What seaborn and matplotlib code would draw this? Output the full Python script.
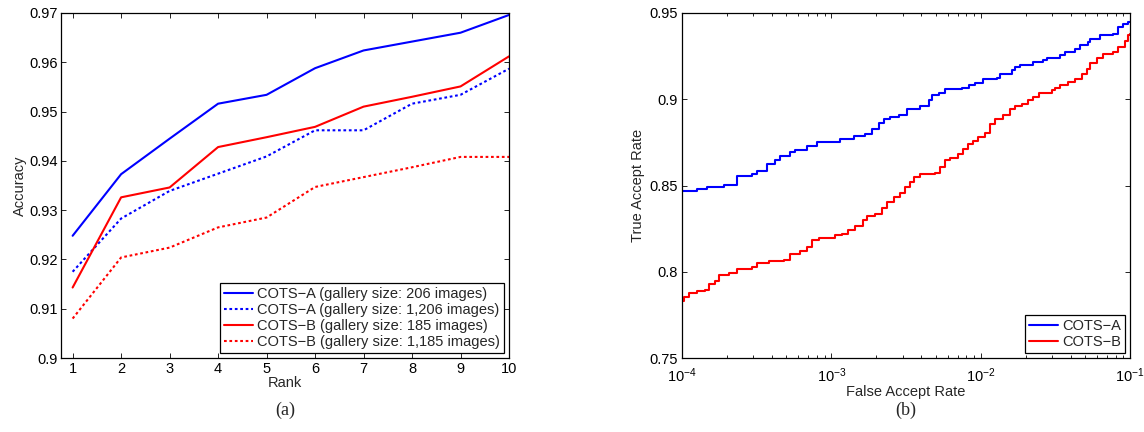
import matplotlib
matplotlib.use("Agg")
import matplotlib.pyplot as plt
import seaborn as sns
import pandas as pd
from matplotlib.ticker import FuncFormatter, LogLocator, NullFormatter, FixedLocator

# ---------------- data ----------------
rank = [1, 2, 3, 4, 5, 6, 7, 8, 9, 10]
cots_a_206 = [0.9248, 0.9373, 0.9445, 0.9516, 0.9534, 0.9588, 0.9624, 0.9642, 0.9660, 0.9696]
cots_a_1206 = [0.9175, 0.9283, 0.9339, 0.9374, 0.9409, 0.9462, 0.9462, 0.9516, 0.9534, 0.9587]
cots_b_185 = [0.9143, 0.9326, 0.9346, 0.9428, 0.9448, 0.9469, 0.9510, 0.9530, 0.9551, 0.9612]
cots_b_1185 = [0.9080, 0.9204, 0.9224, 0.9265, 0.9285, 0.9347, 0.9367, 0.9387, 0.9408, 0.9408]
rank_labels = ["COTS\u2212A (gallery size: 206 images)",
               "COTS\u2212A (gallery size: 1,206 images)",
               "COTS\u2212B (gallery size: 185 images)",
               "COTS\u2212B (gallery size: 1,185 images)"]

far_a = [1.00e-4, 1.26e-4, 1.47e-4, 1.90e-4, 2.33e-4, 2.94e-4, 3.18e-4, 3.71e-4, 4.22e-4,
         4.55e-4, 5.31e-4, 5.73e-4, 6.87e-4, 8.00e-4, 1.15e-3, 1.41e-3, 1.69e-3, 1.87e-3,
         2.07e-3, 2.24e-3, 2.48e-3, 2.82e-3, 3.21e-3, 3.94e-3, 4.48e-3, 4.71e-3, 5.22e-3,
         5.78e-3, 7.48e-3, 8.29e-3, 9.18e-3, 1.04e-2, 1.28e-2, 1.35e-2, 1.61e-2, 1.70e-2,
         1.84e-2, 2.25e-2, 2.63e-2, 2.77e-2, 3.40e-2, 3.68e-2, 4.29e-2, 4.63e-2, 5.26e-2,
         5.40e-2, 6.30e-2, 7.74e-2, 8.36e-2, 9.03e-2, 9.75e-2, 1.00e-1]
tar_a = [0.8468, 0.8480, 0.8491, 0.8505, 0.8553, 0.8565, 0.8584, 0.8627, 0.8646,
         0.8673, 0.8692, 0.8706, 0.8727, 0.8754, 0.8771, 0.8789, 0.8800, 0.8829,
         0.8862, 0.8887, 0.8897, 0.8907, 0.8942, 0.8959, 0.8994, 0.9023, 0.9036,
         0.9059, 0.9067, 0.9081, 0.9096, 0.9119, 0.9123, 0.9144, 0.9168, 0.9187,
         0.9197, 0.9214, 0.9226, 0.9237, 0.9255, 0.9272, 0.9293, 0.9316, 0.9332,
         0.9347, 0.9371, 0.9380, 0.9419, 0.9434, 0.9448, 0.9450]

far_b = [1.00e-4, 1.03e-4, 1.11e-4, 1.26e-4, 1.43e-4, 1.51e-4, 1.67e-4, 1.76e-4, 2.05e-4,
         2.33e-4, 2.94e-4, 3.18e-4, 3.80e-4, 4.79e-4, 5.31e-4, 6.19e-4, 6.87e-4, 7.41e-4,
         8.22e-4, 1.06e-3, 1.18e-3, 1.30e-3, 1.45e-3, 1.64e-3, 1.73e-3, 1.97e-3, 2.18e-3,
         2.36e-3, 2.61e-3, 2.89e-3, 3.13e-3, 3.37e-3, 3.55e-3, 3.94e-3, 4.95e-3, 5.36e-3,
         5.78e-3, 6.25e-3, 7.10e-3, 7.67e-3, 8.28e-3, 8.95e-3, 9.66e-3, 1.07e-2, 1.16e-2,
         1.25e-2, 1.42e-2, 1.57e-2, 1.70e-2, 1.88e-2, 2.09e-2, 2.25e-2, 2.44e-2, 2.99e-2,
         3.16e-2, 3.40e-2, 3.87e-2, 4.29e-2, 4.75e-2, 5.13e-2, 5.41e-2, 5.98e-2, 6.64e-2,
         7.74e-2, 8.36e-2, 9.27e-2, 9.75e-2, 1.00e-1]
tar_b = [0.7830, 0.7854, 0.7877, 0.7886, 0.7896, 0.7931, 0.7946, 0.7983, 0.7993,
         0.8018, 0.8028, 0.8051, 0.8060, 0.8070, 0.8105, 0.8120, 0.8143, 0.8182,
         0.8198, 0.8211, 0.8221, 0.8244, 0.8263, 0.8298, 0.8321, 0.8337, 0.8372,
         0.8404, 0.8433, 0.8457, 0.8491, 0.8518, 0.8549, 0.8565, 0.8572, 0.8607,
         0.8646, 0.8661, 0.8685, 0.8714, 0.8739, 0.8758, 0.8781, 0.8806, 0.8858,
         0.8883, 0.8907, 0.8945, 0.8959, 0.8974, 0.8994, 0.9013, 0.9038, 0.9052,
         0.9067, 0.9081, 0.9100, 0.9119, 0.9148, 0.9177, 0.9210, 0.9239, 0.9264,
         0.9274, 0.9303, 0.9338, 0.9371, 0.9380]
roc_labels = ["COTS\u2212A", "COTS\u2212B"]

# ---------------- style ----------------
FS = 10.5
sns.set_theme(style="ticks")
plt.rcParams["font.family"] = ["Liberation Sans", "DejaVu Sans"]
plt.rcParams.update({
    "font.size": FS,
    "axes.linewidth": 0.9,
    "axes.edgecolor": "black",
    "xtick.direction": "in",
    "ytick.direction": "in",
    "xtick.top": True,
    "ytick.right": True,
    "xtick.major.size": 3.5,
    "ytick.major.size": 3.5,
    "xtick.minor.size": 2.0,
    "xtick.major.width": 0.6,
    "ytick.major.width": 0.6,
    "xtick.minor.width": 0.6,
    "xtick.color": "black",
    "ytick.color": "black",
    "xtick.labelsize": FS,
    "ytick.labelsize": FS,
    "axes.labelsize": FS,
    "mathtext.default": "regular",
})

fig = plt.figure(figsize=(11.44, 4.32), dpi=100)
W, H = 1144.0, 432.0
ax1 = fig.add_axes([61 / W, 74 / H, 448 / W, 345 / H])
ax2 = fig.add_axes([682 / W, 74 / H, 448 / W, 345 / H])

gfmt = FuncFormatter(lambda v, p: "%g" % round(v, 4))

# ---------------- (a) CMC ----------------
series = [cots_a_206, cots_a_1206, cots_b_185, cots_b_1185]
colors = ["#0000ff", "#0000ff", "#ff0000", "#ff0000"]
styles = ["-", (0, (1.3, 1.3)), "-", (0, (1.3, 1.3))]
for vals, lab, c, ls in zip(series, rank_labels, colors, styles):
    df = pd.DataFrame({"Rank": rank, "Accuracy": vals})
    sns.lineplot(data=df, x="Rank", y="Accuracy", ax=ax1, color=c,
                 linestyle=ls, linewidth=1.5, label=lab)
ax1.set_xlim(0.76, 10)
ax1.set_ylim(0.9, 0.97)
ax1.xaxis.set_major_locator(FixedLocator(rank))
ax1.yaxis.set_major_locator(FixedLocator([0.9, 0.91, 0.92, 0.93, 0.94, 0.95, 0.96, 0.97]))
ax1.yaxis.set_major_formatter(gfmt)
ax1.tick_params(axis="x", pad=3)
ax1.tick_params(axis="y", pad=2)
ax1.set_xlabel("Rank", labelpad=0)
ax1.set_ylabel("Accuracy", labelpad=2)
leg1 = ax1.legend(loc="lower right", frameon=True, fancybox=False, edgecolor="black",
                  framealpha=1, handlelength=2.0, handletextpad=0.3, labelspacing=0.15,
                  borderpad=0.25, borderaxespad=0.35, fontsize=FS)
leg1.get_frame().set_linewidth(0.9)

# ---------------- (b) ROC ----------------
for far, tar, lab, c in zip([far_a, far_b], [tar_a, tar_b], roc_labels, ["#0000ff", "#ff0000"]):
    df = pd.DataFrame({"FAR": far, "TAR": tar})
    sns.lineplot(data=df, x="FAR", y="TAR", ax=ax2, color=c, linewidth=1.5,
                 drawstyle="steps-post", label=lab)
ax2.set_xscale("log")
ax2.set_xlim(1e-4, 1e-1)
ax2.set_ylim(0.75, 0.95)
ax2.xaxis.set_major_locator(LogLocator(base=10, numticks=10))
ax2.xaxis.set_minor_locator(LogLocator(base=10, subs=range(2, 10), numticks=10))
ax2.xaxis.set_minor_formatter(NullFormatter())
ax2.yaxis.set_major_locator(FixedLocator([0.75, 0.8, 0.85, 0.9, 0.95]))
ax2.yaxis.set_major_formatter(gfmt)
ax2.tick_params(axis="x", pad=6)
ax2.tick_params(axis="y", pad=3)
ax2.set_xlabel("False Accept Rate", labelpad=0)
ax2.set_ylabel("True Accept Rate", labelpad=3)
leg2 = ax2.legend(loc="lower right", frameon=True, fancybox=False, edgecolor="black",
                  framealpha=1, handlelength=2.0, handletextpad=0.3, labelspacing=0.15,
                  borderpad=0.25, borderaxespad=0.35, fontsize=FS)
leg2.get_frame().set_linewidth(0.9)

for ax in (ax1, ax2):
    for s in ax.spines.values():
        s.set_visible(True)
        s.set_color("black")

# captions
fig.text(285 / W, 1 - 410 / H, "(a)", ha="center", va="center",
         family=["Liberation Serif", "DejaVu Serif"], fontsize=13)
fig.text(906 / W, 1 - 410 / H, "(b)", ha="center", va="center",
         family=["Liberation Serif", "DejaVu Serif"], fontsize=13)

fig.savefig("out.png", dpi=100)
